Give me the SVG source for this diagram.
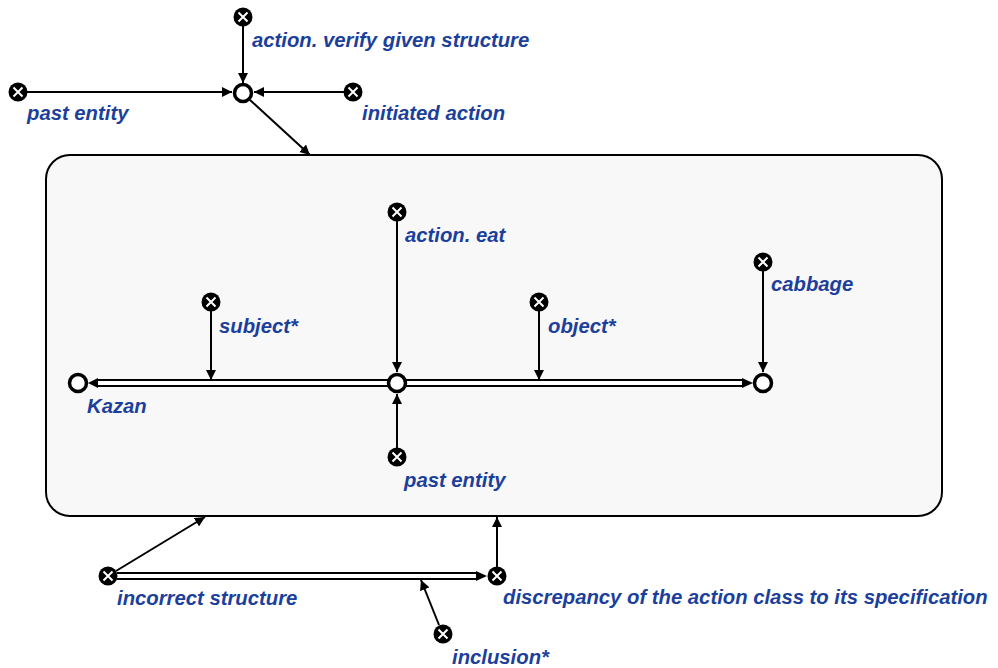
<svg xmlns="http://www.w3.org/2000/svg" width="998" height="668" viewBox="0 0 998 668">
<style>
  .lbl { font-family: "Liberation Sans", Arial, sans-serif; font-size: 20.3px; font-weight: bold; font-style: italic; fill: #1c3f9c; }
  .edge { stroke: #000; stroke-width: 2; fill: none; }
  .dbl-out { stroke: #000; stroke-width: 8; fill: none; }
  .dbl-in { stroke: #fff; stroke-width: 4; fill: none; }
  .const { fill: #000; }
  .cross { stroke: #fff; stroke-width: 2; }
  .var { fill: #fff; stroke: #000; stroke-width: 3.5; }
</style>
<defs>
  <marker id="arr" viewBox="0 0 10 10" refX="10" refY="5" markerWidth="10" markerHeight="10" markerUnits="userSpaceOnUse" orient="auto">
    <path d="M0,0 L10,5 L0,10 z" fill="#000"/>
  </marker>
  <g id="cnode">
    <circle r="9.5" class="const"/>
    <path d="M-4.5,-4.5 L4.5,4.5 M-4.5,4.5 L4.5,-4.5" class="cross"/>
  </g>
</defs>
<rect width="998" height="668" fill="#fff"/>

<!-- structure contour -->
<g id="contour">
  <rect x="46" y="155" width="896" height="361" rx="24" ry="24" fill="#f8f8f8" stroke="#000" stroke-width="2"/>
</g>

<!-- connectors -->
<g id="connectors">
  <line x1="243" y1="26" x2="243" y2="83" class="edge" marker-end="url(#arr)"/>
  <line x1="27" y1="92" x2="232" y2="92" class="edge" marker-end="url(#arr)"/>
  <line x1="344" y1="92" x2="254" y2="92" class="edge" marker-end="url(#arr)"/>
  <line x1="250" y1="100" x2="310" y2="155" class="edge" marker-end="url(#arr)"/>

  <line x1="397" y1="221" x2="397" y2="372" class="edge" marker-end="url(#arr)"/>
  <line x1="397" y1="448" x2="397" y2="394" class="edge" marker-end="url(#arr)"/>
  <line x1="763" y1="271" x2="763" y2="372" class="edge" marker-end="url(#arr)"/>

  <!-- pair arcs -->
  <line x1="388" y1="383" x2="96" y2="383" class="dbl-out"/>
  <line x1="388" y1="383" x2="98" y2="383" class="dbl-in"/>
  <path d="M98,378 L88,383 L98,388 z" fill="#000"/>
  <line x1="406" y1="383" x2="744" y2="383" class="dbl-out"/>
  <line x1="406" y1="383" x2="742" y2="383" class="dbl-in"/>
  <path d="M742,378 L753,383 L742,388 z" fill="#000"/>

  <line x1="211" y1="311" x2="211" y2="380" class="edge" marker-end="url(#arr)"/>
  <line x1="539" y1="311" x2="539" y2="380" class="edge" marker-end="url(#arr)"/>

  <!-- lower part -->
  <line x1="116" y1="571" x2="205" y2="517" class="edge" marker-end="url(#arr)"/>
  <line x1="117" y1="576" x2="478" y2="576" class="dbl-out"/>
  <line x1="117" y1="576" x2="476" y2="576" class="dbl-in"/>
  <path d="M476,571 L487,576 L476,581 z" fill="#000"/>
  <line x1="497" y1="567" x2="497" y2="517" class="edge" marker-end="url(#arr)"/>
  <line x1="439" y1="625" x2="421" y2="580" class="edge" marker-end="url(#arr)"/>
</g>

<g id="n_verify"><use href="#cnode" x="243" y="17"/><text x="252" y="47" class="lbl">action. verify given structure</text></g>
<g id="n_past_top"><use href="#cnode" x="18" y="92"/><text x="27" y="120" class="lbl">past entity</text></g>
<g id="n_initiated"><use href="#cnode" x="353" y="92"/><text x="362" y="120" class="lbl">initiated action</text></g>
<g id="n_situation"><circle cx="243" cy="93" r="8.5" class="var"/></g>

<g id="n_eat"><use href="#cnode" x="397" y="212"/><text x="405" y="242" class="lbl">action. eat</text></g>
<g id="n_subject"><use href="#cnode" x="211" y="302"/><text x="219" y="333" class="lbl">subject*</text></g>
<g id="n_object"><use href="#cnode" x="539" y="302"/><text x="548" y="333" class="lbl">object*</text></g>
<g id="n_cabbage_cls"><use href="#cnode" x="763" y="262"/><text x="771" y="291" class="lbl">cabbage</text></g>
<g id="n_kazan"><circle cx="78" cy="383" r="8.5" class="var"/><text x="87" y="413" class="lbl">Kazan</text></g>
<g id="n_action"><circle cx="397" cy="383" r="8.5" class="var"/></g>
<g id="n_cabbage"><circle cx="763" cy="383" r="8.5" class="var"/></g>
<g id="n_past_inner"><use href="#cnode" x="397" y="457"/><text x="404" y="487" class="lbl">past entity</text></g>

<g id="n_incorrect"><use href="#cnode" x="108" y="576"/><text x="117" y="605" class="lbl">incorrect structure</text></g>
<g id="n_discrepancy"><use href="#cnode" x="497" y="576"/><text x="503" y="604" class="lbl">discrepancy of the action class to its specification</text></g>
<g id="n_inclusion"><use href="#cnode" x="443" y="634"/><text x="452" y="664" class="lbl">inclusion*</text></g>
</svg>
